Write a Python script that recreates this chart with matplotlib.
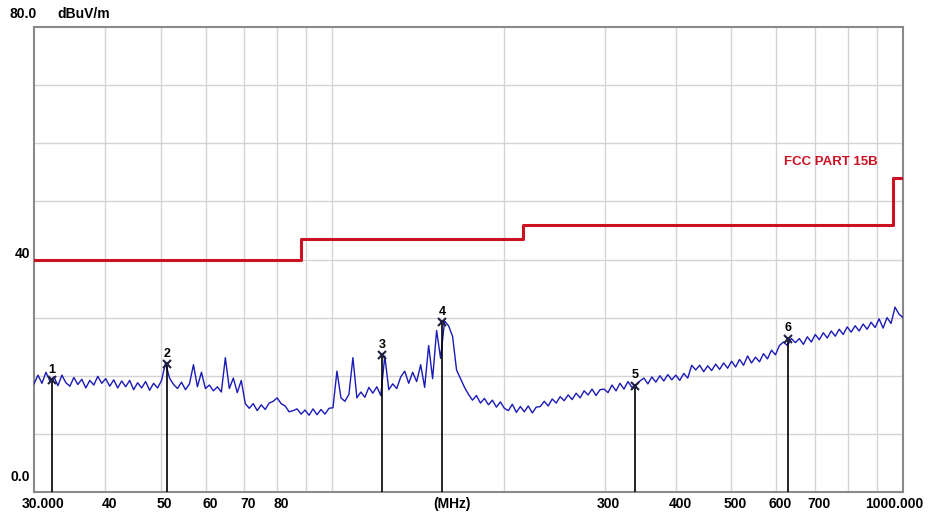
import numpy as np
import matplotlib
matplotlib.use('Agg')
from matplotlib import pyplot as plt
from matplotlib.transforms import offset_copy

# ============================================
# Data
# ============================================
# measured trace levels (dBuV/m), sweep points from 30 MHz to 1000 MHz
trace_levels = [
    # 30 - 50 MHz
    18.6, 20.1, 18.7, 20.6, 19.1, 19.8, 18.3, 20.1, 18.8, 18.2, 19.7, 18.5,
    19.4, 17.9, 19.2, 18.4, 19.9, 18.7, 19.5, 18.2, 19.3, 17.9, 19.1, 18.1,
    19.2, 17.6, 18.8, 17.9, 19.0, 17.5, 18.7, 17.9,
    # around marker 2
    19.2, 22.2, 19.6,
    18.5, 17.8, 18.9, 17.6, 18.6, 21.9, 18.1, 20.6, 17.8, 18.4, 17.4, 18.1,
    17.2, 23.1, 17.8, 19.6, 17.1, 19.2,
    # 70 - 100 MHz dip
    15.2, 14.4, 15.2, 14.0, 15.0, 14.2, 15.3, 15.6, 16.2, 15.2, 14.8, 13.8,
    14.0, 14.3, 13.4,
    14.1, 13.2, 14.3, 13.3, 14.2, 13.4, 14.4, 14.5,
    # 100 - 145 MHz
    20.8, 16.2, 15.6, 16.8, 23.1, 16.2, 17.2, 16.3, 18.0, 17.0, 18.1, 16.6,
    23.4, 17.6, 18.6, 17.8, 19.8, 20.8, 18.7, 20.6, 19.0,
    # 145 - 170 MHz peak
    21.9, 18.0, 25.2, 19.5, 27.8, 23.0, 29.4, 28.6, 26.8, 21.0, 19.5, 18.0,
    # 170 - 230 MHz
    16.8, 15.8, 16.6, 15.3, 16.1, 15.0, 15.8, 14.6, 15.5, 14.4, 14.0, 15.1,
    13.7, 14.7, 13.8, 14.8, 13.6, 14.6,
    14.7, 15.6, 14.8, 16.0, 15.3, 16.4, 15.7, 16.7, 15.9, 17.0, 16.2, 17.4,
    16.7, 17.7, 16.6, 17.6,
    # 300 - 450 MHz
    17.7, 17.1, 18.4, 17.4, 18.7, 17.7, 19.0, 18.0, 18.4, 19.1, 19.6, 18.6,
    19.8, 18.9, 20.0, 19.1, 20.2, 19.3, 20.1, 19.2, 20.4, 19.6,
    21.8, 21.0, 21.8, 20.7, 21.7, 20.9, 22.0, 21.1, 22.2, 21.3, 22.5, 21.5,
    22.8, 21.8, 23.4, 22.2, 23.2, 22.4,
    # 550 - 1000 MHz
    23.8, 22.9, 24.4, 23.6, 25.2, 25.8, 25.2, 26.4, 25.7, 26.4, 25.4, 26.7,
    25.8, 27.1, 26.2, 27.4, 26.5, 27.7, 26.8,
    28.0, 27.1, 28.4, 27.5, 28.6, 27.7, 28.9, 28.0, 29.2, 28.3, 29.8, 28.2,
    30.0, 29.0, 31.8, 30.6, 30.0,
]
trace_freqs = np.geomspace(30, 1000, len(trace_levels))

# FCC Part 15B limit (step edges in MHz, level in dBuV/m)
limit_freqs = [30, 88, 88, 216, 216, 960, 960, 1000]
limit_levels = [40, 40, 43.5, 43.5, 46, 46, 54, 54]

# peak markers
marker_ids = ['1', '2', '3', '4', '5', '6']
marker_freqs = [32.2, 51.3, 122.4, 155.8, 339.0, 629.0]
marker_levels = [19.3, 22.0, 23.6, 29.3, 18.3, 26.4]

grid_freqs = [40, 50, 60, 70, 80, 90, 100, 200, 300, 400, 500, 600, 700, 800, 900]
xtick_freqs = [40, 50, 60, 70, 80, 300, 400, 500, 600, 700]
xtick_labels = ['40', '50', '60', '70', '80', '300', '400', '500', '600', '700']

# ============================================
# Figure
# ============================================
plt.rcParams['font.family'] = ['Liberation Sans', 'DejaVu Sans']
fig = plt.figure(figsize=(9.29, 5.13), dpi=100)
ax = fig.add_axes([34 / 929, 21 / 513, 869 / 929, 465 / 513])

ax.set_xscale('log')
ax.set_xlim(30, 1000)
ax.set_ylim(0, 80)
ax.set_xticks(grid_freqs)
ax.set_xticks([], minor=True)
ax.set_yticks(range(10, 80, 10))
ax.set_xticklabels([])
ax.set_yticklabels([])
ax.tick_params(length=0, which='both')
ax.grid(True, color='#d4d4d4', linewidth=1)
for s in ax.spines.values():
    s.set_color('#8a8a8a')
    s.set_linewidth(1.5)

# limit line
ax.plot(limit_freqs, limit_levels, color='#cc1122', linewidth=2.2, zorder=3)
fig.text(878 / 929, 1 - 162 / 513, 'FCC PART 15B', color='#cc1122',
         fontsize=9.5, fontweight='bold', ha='right', va='center')

# trace
ax.plot(trace_freqs, trace_levels, color='#1a1ab8', linewidth=1.0, zorder=4)

# markers
for mid, f, lv in zip(marker_ids, marker_freqs, marker_levels):
    ax.plot([f, f], [0, lv], color='black', linewidth=1.2, zorder=5)
    ax.plot(f, lv, marker='x', color='#202040', markersize=6, mew=1.5, zorder=6)
    ax.annotate(mid, (f, lv), xytext=(0, 3), textcoords='offset points',
                ha='center', va='bottom', fontsize=9, fontweight='bold')

# x tick labels (drawn as text, just under the axis)
xt = ax.get_xaxis_transform()
for f, lab in zip(xtick_freqs, xtick_labels):
    ax.text(f, 0, lab, transform=offset_copy(xt, fig, x=4, y=-5, units='dots'),
            ha='center', va='top', fontsize=10, fontweight='bold')
ax.text(30, 0, '30.000', transform=offset_copy(xt, fig, x=-12, y=-5, units='dots'),
        ha='left', va='top', fontsize=10, fontweight='bold')
ax.text(1000, 0, '1000.000', transform=offset_copy(xt, fig, x=20, y=-5, units='dots'),
        ha='right', va='top', fontsize=10, fontweight='bold')
ax.text(162, 0, '(MHz)', transform=offset_copy(xt, fig, x=0, y=-5, units='dots'),
        ha='center', va='top', fontsize=10, fontweight='bold')

# y labels
yt = ax.get_yaxis_transform()
ax.text(0, 40, '40', transform=offset_copy(yt, fig, x=-4, y=5, units='dots'),
        ha='right', va='center', fontsize=10, fontweight='bold')
ax.text(0, 0, '0.0', transform=offset_copy(yt, fig, x=-4, y=15, units='dots'),
        ha='right', va='center', fontsize=10, fontweight='bold')
fig.text(10 / 929, 1 - 14 / 513, '80.0', ha='left', va='center',
         fontsize=10, fontweight='bold')
fig.text(57 / 929, 1 - 14 / 513, 'dBuV/m', ha='left', va='center',
         fontsize=10, fontweight='bold')

fig.savefig('out.png', dpi=100)
